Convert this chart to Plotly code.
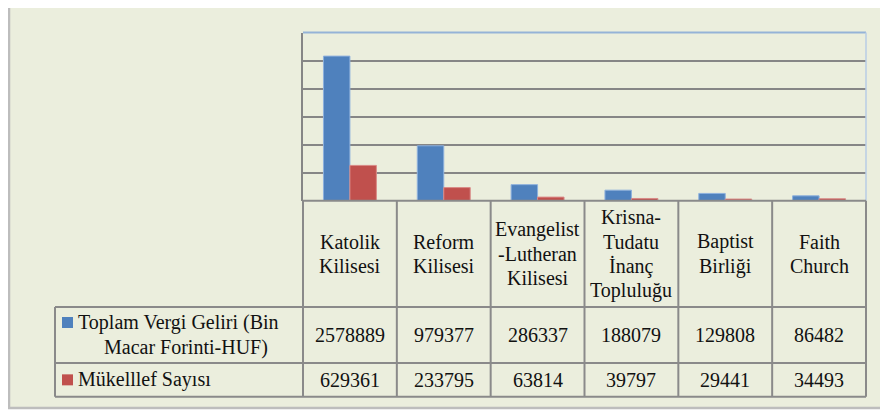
import plotly.graph_objects as go

# ---- data ----
categories = ["Katolik Kilisesi", "Reform Kilisesi", "Evangelist -Lutheran Kilisesi",
              "Krisna-Tudatu İnanç Topluluğu", "Baptist Birliği", "Faith Church"]
category_lines = [["Katolik", "Kilisesi"], ["Reform", "Kilisesi"],
                  ["Evangelist", "-Lutheran", "Kilisesi"],
                  ["Krisna-", "Tudatu", "İnanç", "Topluluğu"],
                  ["Baptist", "Birliği"], ["Faith", "Church"]]
series_names = ["Toplam Vergi Geliri (Bin Macar Forinti-HUF)", "Mükelllef Sayısı"]
tax_revenue = [2578889, 979377, 286337, 188079, 129808, 86482]
taxpayers = [629361, 233795, 63814, 39797, 29441, 34493]
series_values = [tax_revenue, taxpayers]
series_colors = ["#4F81BD", "#C0504D"]
series_edge = ["#8DB0DD", "#D98A87"]

OFF = 8  # page body margin
W, H = 888 - OFF, 412 - OFF
BG = "#EBEEDD"
GRID = "#868686"
FONT = "Times New Roman"
FS = 20
TXT = "#111111"

def px(x):
    return (x - OFF) / W

def py(y):
    return 1 - (y - OFF) / H

# layout geometry (screen pixels)
PL, PR, PT, PB = 303, 866, 32.5, 200.7
LEG_L = 55
ROW1, ROW2, TBOT = 307, 363, 396.7
colw = (PR - PL) / len(categories)

fig = go.Figure()
for name, vals, col, edge in zip(series_names, series_values, series_colors, series_edge):
    fig.add_trace(go.Bar(x=categories, y=vals, name=name,
                         marker=dict(color=col, line=dict(color=edge, width=1)),
                         hoverinfo="skip"))

shapes = []
annotations = []
# outer chart border (background panel)
shapes.append(dict(type="rect", xref="paper", yref="paper", x0=px(9), x1=px(900),
                   y0=py(408), y1=py(4.5), line=dict(color="#BDBDBD", width=2.5),
                   fillcolor=BG, layer="below"))
# plot top & right borders
shapes.append(dict(type="line", xref="paper", yref="paper", x0=px(PL), x1=px(PR),
                   y0=py(PT), y1=py(PT), line=dict(color="#95B3D7", width=2)))
shapes.append(dict(type="line", xref="paper", yref="paper", x0=px(PR), x1=px(PR),
                   y0=py(PT), y1=py(PB), line=dict(color="#B9CDE5", width=1.5)))

TL = dict(color="#8A8A8A", width=2)
def hline(y, x0, x1):
    shapes.append(dict(type="line", xref="paper", yref="paper", x0=px(x0), x1=px(x1),
                       y0=py(y), y1=py(y), line=TL))
def vline(x, y0, y1):
    shapes.append(dict(type="line", xref="paper", yref="paper", x0=px(x), x1=px(x),
                       y0=py(y0), y1=py(y1), line=TL))

hline(PB, PL, PR)
hline(ROW1, LEG_L, PR)
hline(ROW2, LEG_L, PR)
hline(TBOT, LEG_L, PR)
vline(LEG_L, ROW1, TBOT)
for k in range(len(categories) + 1):
    vline(PL + k * colw, PB, TBOT)

def text(x, y, s, anchor="center"):
    annotations.append(dict(x=px(x), y=py(y), xref="paper", yref="paper", text=s,
                            showarrow=False, xanchor=anchor, yanchor="middle"))

# header
LS = 24.5
hc = (PB + ROW1) / 2
for i, lines in enumerate(category_lines):
    cx = PL + (i + 0.5) * colw
    n = len(lines)
    for j, ln in enumerate(lines):
        text(cx, hc + (j - (n - 1) / 2) * LS, ln)

# values
row_centers = [(ROW1 + ROW2) / 2, (ROW2 + TBOT) / 2]
for vals, rc in zip(series_values, row_centers):
    for i, v in enumerate(vals):
        text(PL + (i + 0.5) * colw, rc, str(v))

# legend keys
for col, rc, off in zip(series_colors, row_centers, [-12.5, 0]):
    ky = rc + off
    shapes.append(dict(type="rect", xref="paper", yref="paper", x0=px(62), x1=px(73),
                       y0=py(ky + 5.5), y1=py(ky - 5.5), fillcolor=col, line=dict(width=0)))
# legend texts
n1 = series_names[0]
text(76, row_centers[0] - 12.5, n1[:24], anchor="left")
text(186, row_centers[0] + 12, n1[25:])
text(76, row_centers[1], series_names[1], anchor="left")

fig.update_layout(
    width=W, height=H, margin=dict(l=0, r=0, t=0, b=0),
    font=dict(family=FONT, size=FS, color=TXT),
    paper_bgcolor="white", plot_bgcolor=BG,
    showlegend=False, barmode="group", bargap=0.436, bargroupgap=0,
    xaxis=dict(domain=[px(PL), px(PR)], range=[-0.5, 5.5], showticklabels=False,
               showgrid=False, zeroline=False, showline=False, ticks=""),
    yaxis=dict(domain=[py(PB), py(PT)], range=[0, 3000000], dtick=500000,
               showticklabels=False, showgrid=True, gridcolor=GRID, gridwidth=2,
               zeroline=False, showline=True, linecolor=GRID, linewidth=2, ticks=""),
    shapes=shapes, annotations=annotations,
)

fig.write_html("out.html")
